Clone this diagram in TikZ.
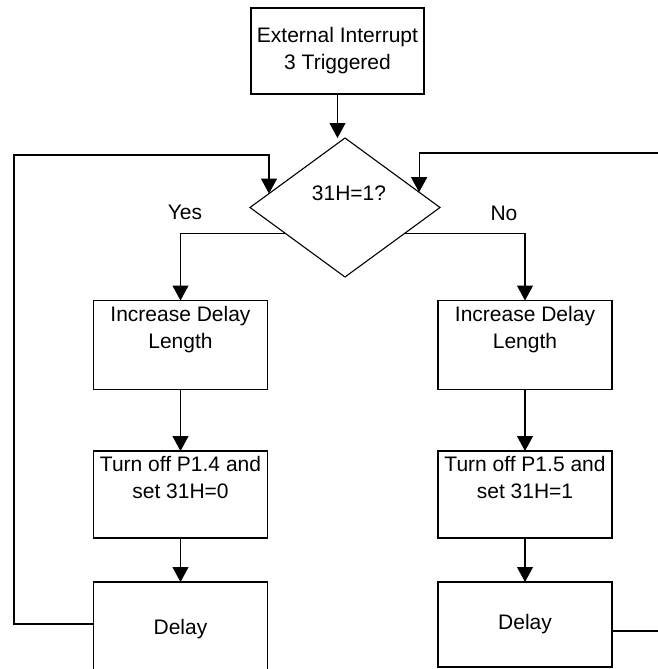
\documentclass[tikz,border=0pt]{standalone}
\usepackage{fontspec}
\setmainfont{Liberation Sans}
\usetikzlibrary{shapes.geometric,arrows.meta,calc}
\tikzset{
  txt/.style={font=\fontsize{21pt}{27pt}\selectfont},
  box/.style={draw, line width=1.1pt, minimum width=174pt, inner sep=0pt, outer sep=0pt, align=center, txt},
  decision/.style={draw, diamond, line width=1.1pt, minimum width=190pt, minimum height=139pt, inner sep=0pt, outer sep=0pt},
  conn/.style={line width=1.1pt},
  arr/.style={conn, -{Triangle[width=16pt,length=15pt]}}
}
\begin{document}
\begin{tikzpicture}[x=1pt,y=-1pt]
\useasboundingbox (0,0) rectangle (658,669);
% nodes
\node[box, minimum width=173pt, minimum height=86pt] (top) at (337.5,51) {External Interrupt\\3 Triggered};
\node[decision, label={[txt, xshift=4pt, yshift=14.5pt]center:31H=1?}] (dia) at (345,207.5) {};
\node[box, minimum height=89pt] (L1) at (180.5,345) {Increase Delay\\Length\\\strut};
\node[box, minimum height=89pt] (R1) at (525,345) {Increase Delay\\Length\\\strut};
\node[box, minimum height=87pt] (L2) at (180.5,494.5) {Turn off P1.4 and\\set 31H=0\\\strut};
\node[box, minimum height=87pt] (R2) at (525,494.5) {Turn off P1.5 and\\set 31H=1\\\strut};
\node[box, minimum height=94pt] (L3) at (180.5,629) {\raisebox{5pt}{Delay}};
\node[box, minimum height=85pt] (R3) at (525,624.5) {Delay};
\node[txt] (yes) at (185,212) {Yes};
\node[txt] (no) at (504,213) {No};
% helper coordinates
\coordinate (dl) at ($(dia.west)!0.2!(dia.north)$);
\coordinate (dr) at ($(dia.east)!0.22!(dia.north)$);
\coordinate (yl) at ($(dia.west)!0.377!(dia.south)$);
\coordinate (yr) at ($(dia.east)!0.377!(dia.south)$);
\coordinate (lc) at (14,155);
\coordinate (rin) at (658,153);
\coordinate (rout) at (658,631);
% connectors
\draw[arr] (top.south) -- (top.south |- dia.north);
\draw[arr] (yl) -| (L1.north);
\draw[arr] (yr) -| (R1.north);
\draw[arr] (L1.south) -- (L2.north);
\draw[arr] (R1.south) -- (R2.north);
\draw[arr] (L2.south) -- (L3.north);
\draw[arr] (R2.south) -- (R3.north);
\draw[arr] ([yshift=5pt]L3.west) -| (lc) -| (dl);
\draw[arr] (rin) -| (dr);
\draw[conn] (R3.east |- rout) -- (rout);
\end{tikzpicture}
\end{document}
